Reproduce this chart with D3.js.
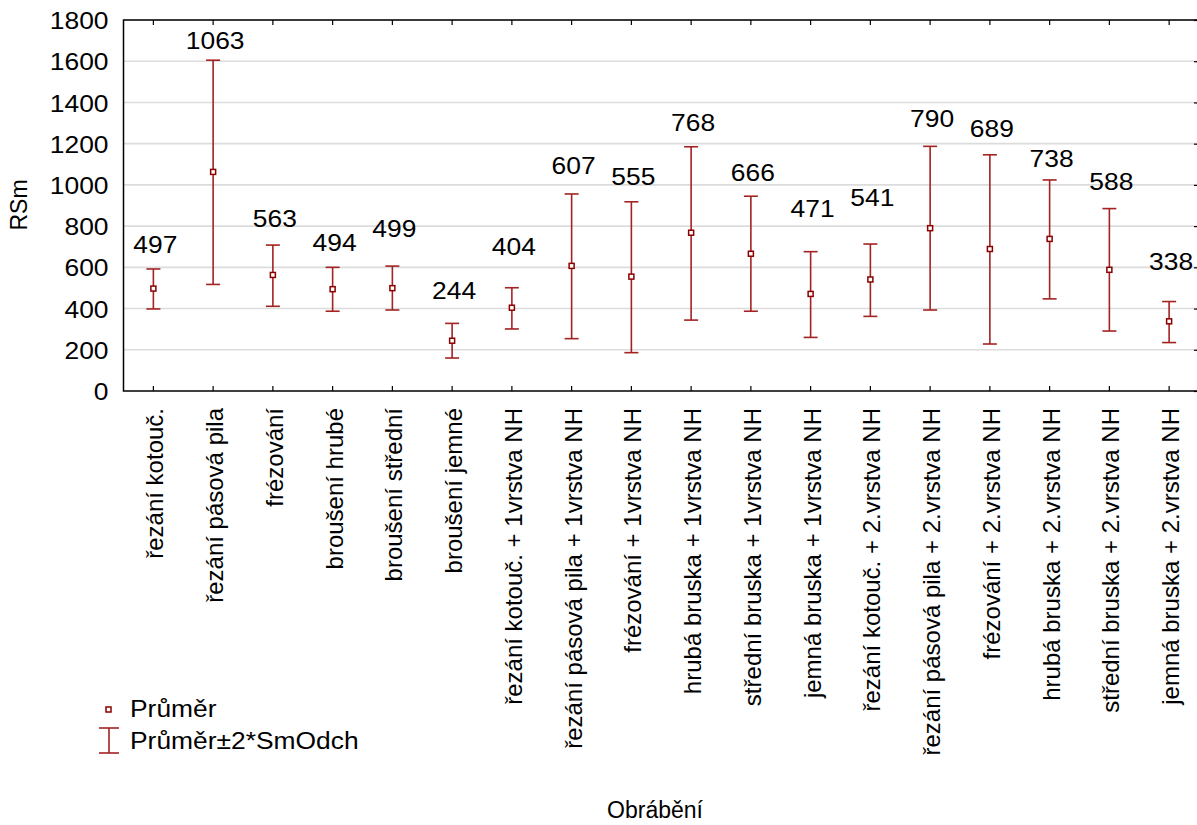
<!DOCTYPE html>
<html>
<head>
<meta charset="utf-8">
<title>RSm podle obrábění</title>
<script src="https://d3js.org/d3.v7.min.js"></script>
<style>
    body { margin: 0; background: #fff; }
    svg text { font-family: "Liberation Sans", Arial, sans-serif; fill: #000; }
    .grid line { stroke: #dcdcdc; stroke-width: 1.6; }
    .frame { fill: none; stroke: #000; stroke-width: 1.5; }
    .tick line { stroke: #000; stroke-width: 1.2; }
    .bar { stroke: #a32222; stroke-width: 1.6; fill: none; }
    .mean { stroke: #8b0000; stroke-width: 1.5; fill: #fff; }
</style>
</head>
<body>
<div id="chart"></div>
<script>
    // kategorie (osa X)
    const categories = [
        "řezání kotouč.", "řezání pásová pila", "frézování",
        "broušení hrubé", "broušení střední", "broušení jemné",
        "řezání kotouč. + 1vrstva NH", "řezání pásová pila + 1vrstva NH",
        "frézování + 1vrstva NH", "hrubá bruska + 1vrstva NH",
        "střední bruska + 1vrstva NH", "jemná bruska + 1vrstva NH",
        "řezání kotouč. + 2.vrstva NH", "řezání pásová pila + 2.vrstva NH",
        "frézování + 2.vrstva NH", "hrubá bruska + 2.vrstva NH",
        "střední bruska + 2.vrstva NH", "jemná bruska + 2.vrstva NH"
    ];
    // průměr
    const means = [497, 1063, 563, 494, 499, 244, 404, 607, 555, 768, 666, 471, 541, 790, 689, 738, 588, 338];
    // průměr - 2*SmOdch
    const lower = [398, 517, 411, 387, 393, 160, 301, 254, 186, 344, 387, 260, 362, 393, 228, 447, 291, 235];
    // průměr + 2*SmOdch
    const upper = [592, 1605, 708, 600, 606, 328, 501, 956, 918, 1185, 945, 676, 713, 1187, 1146, 1024, 885, 434];
    const yTicks = [0, 200, 400, 600, 800, 1000, 1200, 1400, 1600, 1800];

    const W = 1197, H = 825;
    const plot = { left: 123.5, right: 1199, top: 20, bottom: 391 };
    const fontSize = 24;
    const stretch = 1.1;   // písmo v originále je trochu širší

    const svg = d3.select("#chart").append("svg")
        .attr("width", W).attr("height", H);

    const x = d3.scaleBand().domain(categories).range([plot.left, plot.right]);
    const cx = d => x(d) + x.bandwidth() / 2;
    const y = d3.scaleLinear().domain([0, 1800]).range([plot.bottom, plot.top]);

    // mřížka
    svg.append("g").attr("class", "grid")
        .selectAll("line").data(yTicks.slice(1)).enter().append("line")
        .attr("x1", plot.left).attr("x2", plot.right)
        .attr("y1", d => y(d)).attr("y2", d => y(d));

    // osy - ticky dovnitř
    const bottomAxis = svg.append("g")
        .attr("transform", `translate(0,${plot.bottom})`)
        .call(d3.axisBottom(x).tickSizeInner(-5).tickSizeOuter(0).tickFormat(""));
    bottomAxis.select(".domain").remove();

    const topAxis = svg.append("g")
        .attr("transform", `translate(0,${plot.top})`)
        .call(d3.axisTop(x).tickSizeInner(-5).tickSizeOuter(0).tickFormat(""));
    topAxis.select(".domain").remove();

    const rightAxis = svg.append("g")
        .attr("transform", `translate(${plot.right},0)`)
        .call(d3.axisRight(y).tickValues(yTicks).tickSizeInner(-5).tickSizeOuter(0).tickFormat(""));
    rightAxis.select(".domain").remove();

    const leftAxis = svg.append("g")
        .attr("transform", `translate(${plot.left},0)`)
        .call(d3.axisLeft(y).tickValues(yTicks).tickSize(0).tickFormat(d3.format("d")));
    leftAxis.select(".domain").remove();
    leftAxis.selectAll("text")
        .style("font-size", fontSize + "px")
        .attr("x", -15 / stretch)
        .attr("dy", "0.36em")
        .attr("transform", `scale(${stretch},1)`);

    svg.append("rect").attr("class", "frame")
        .attr("x", plot.left).attr("y", plot.top)
        .attr("width", plot.right - plot.left).attr("height", plot.bottom - plot.top);

    // popisky kategorií
    svg.append("g").selectAll("text").data(categories).enter().append("text")
        .attr("transform", d => `translate(${cx(d) + 10},408) rotate(-90)`)
        .attr("text-anchor", "end")
        .style("font-size", fontSize + "px")
        .text(d => d);

    // chybové úsečky
    const cap = 7;
    const bars = svg.append("g").selectAll("g").data(categories).enter().append("g").attr("class", "bar");
    bars.append("line")
        .attr("x1", cx).attr("x2", cx)
        .attr("y1", (d, i) => y(upper[i])).attr("y2", (d, i) => y(lower[i]));
    bars.append("line")
        .attr("x1", d => cx(d) - cap).attr("x2", d => cx(d) + cap)
        .attr("y1", (d, i) => y(upper[i])).attr("y2", (d, i) => y(upper[i]));
    bars.append("line")
        .attr("x1", d => cx(d) - cap).attr("x2", d => cx(d) + cap)
        .attr("y1", (d, i) => y(lower[i])).attr("y2", (d, i) => y(lower[i]));

    // průměry
    svg.append("g").selectAll("rect").data(categories).enter().append("rect")
        .attr("class", "mean")
        .attr("x", d => cx(d) - 2.5).attr("y", (d, i) => y(means[i]) - 2.5)
        .attr("width", 5).attr("height", 5);

    // hodnoty nad úsečkami (ručně posunuté, aby se nepřekrývaly)
    const labelGap = [16, 11, 18, 16, 29, 24, 33, 20, 17, 16, 15, 35, 38, 19, 18, 13, 19, 32];
    svg.append("g").selectAll("text").data(categories).enter().append("text")
        .attr("transform", (d, i) => `translate(${cx(d) + 2},${y(upper[i]) - labelGap[i]}) scale(${stretch},1)`)
        .attr("text-anchor", "middle")
        .style("font-size", fontSize + "px")
        .text((d, i) => means[i]);

    // názvy os
    svg.append("text")
        .attr("transform", "translate(27,205) rotate(-90)")
        .attr("text-anchor", "middle")
        .style("font-size", "23px")
        .text("RSm");
    svg.append("text")
        .attr("x", 655).attr("y", 818)
        .attr("text-anchor", "middle")
        .style("font-size", "23px")
        .text("Obrábění");

    // legenda
    const leg = svg.append("g");
    leg.append("rect").attr("class", "mean")
        .attr("x", 106).attr("y", 707).attr("width", 5).attr("height", 5);
    leg.append("text").attr("transform", `translate(130,717) scale(${stretch},1)`)
        .style("font-size", fontSize + "px").text("Průměr");
    const lb = leg.append("g").attr("class", "bar");
    lb.append("line").attr("x1", 109).attr("x2", 109).attr("y1", 728).attr("y2", 753);
    lb.append("line").attr("x1", 99).attr("x2", 119).attr("y1", 728).attr("y2", 728);
    lb.append("line").attr("x1", 99).attr("x2", 119).attr("y1", 753).attr("y2", 753);
    leg.append("text").attr("transform", `translate(130,749) scale(${stretch},1)`)
        .style("font-size", fontSize + "px").text("Průměr±2*SmOdch");
</script>
</body>
</html>
